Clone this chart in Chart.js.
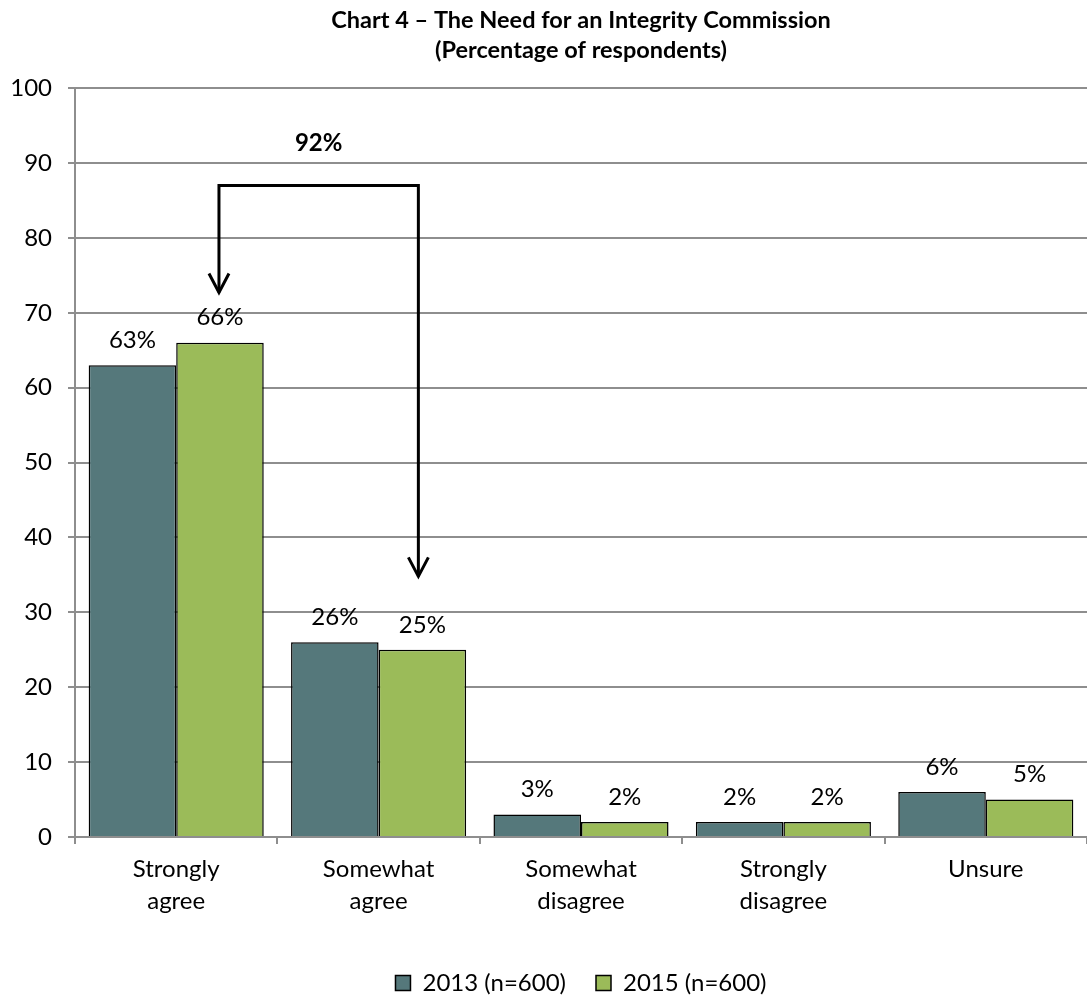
<!DOCTYPE html>
<html>
<head>
<meta charset="utf-8">
<script src="https://cdn.jsdelivr.net/npm/chart.js@4/dist/chart.umd.min.js"></script>
<style>
  html, body { margin: 0; padding: 0; background: #fff; }
  #wrap { width: 1087px; height: 995px; }
</style>
</head>
<body>
<div id="wrap"><canvas id="needChart"></canvas></div>
<script>
// chart data
const categories = [['Strongly', 'agree'], ['Somewhat', 'agree'], ['Somewhat', 'disagree'], ['Strongly', 'disagree'], ['Unsure']];
const seriesNames = ['2013 (n=600)', '2015 (n=600)'];
const values2013 = [63, 26, 3, 2, 6];
const values2015 = [66, 25, 2, 2, 5];
const titleLines = ['Chart 4 \u2013 The Need for an Integrity Commission', '(Percentage of respondents)'];

// bracket annotation (y values on the percentage scale)
const bracketLabel = '92%';
const bracketLabelValue = 92.7;
const bracketTopValue = 87;
const leftArrowTipValue = 72.7;
const rightArrowTipValue = 34.8;

const FONT = 'Lato, "Open Sans", sans-serif';
const gridColor = '#8e8e8e';

// percent labels above every bar
const barLabels = {
  id: 'barLabels',
  afterDatasetsDraw(chart) {
    const ctx = chart.ctx;
    ctx.save();
    ctx.font = '24px ' + FONT;
    ctx.fillStyle = '#000';
    ctx.textAlign = 'center';
    ctx.textBaseline = 'middle';
    chart.data.datasets.forEach((ds, i) => {
      chart.getDatasetMeta(i).data.forEach((bar, j) => {
        ctx.fillText(ds.data[j] + '%', bar.x, bar.y - 25);
      });
    });
    ctx.restore();
  }
};

// the "92%" bracket joining strongly + somewhat agree (2015)
const bracket = {
  id: 'bracket',
  afterDatasetsDraw(chart) {
    const ctx = chart.ctx;
    const y = chart.scales.y;
    const meta = chart.getDatasetMeta(1);
    const xl = meta.data[0].x - 1;
    const xr = meta.data[1].x - 4;
    const yTop = y.getPixelForValue(bracketTopValue);
    const yl = y.getPixelForValue(leftArrowTipValue);
    const yr = y.getPixelForValue(rightArrowTipValue);

    ctx.save();
    ctx.strokeStyle = '#000';
    ctx.lineWidth = 3;
    ctx.beginPath();
    ctx.moveTo(xl, yl);
    ctx.lineTo(xl, yTop);
    ctx.lineTo(xr, yTop);
    ctx.lineTo(xr, yr);
    ctx.stroke();

    // open arrow heads
    [[xl, yl], [xr, yr]].forEach(([x, tip]) => {
      ctx.beginPath();
      ctx.moveTo(x - 10, tip - 19);
      ctx.lineTo(x, tip);
      ctx.lineTo(x + 10, tip - 19);
      ctx.stroke();
    });

    ctx.font = 'bold 24px ' + FONT;
    ctx.fillStyle = '#000';
    ctx.textAlign = 'center';
    ctx.textBaseline = 'middle';
    ctx.fillText(bracketLabel, (xl + xr) / 2, y.getPixelForValue(bracketLabelValue));
    ctx.restore();
  }
};

new Chart(document.getElementById('needChart'), {
  type: 'bar',
  data: {
    labels: categories,
    datasets: [{
      label: seriesNames[0],
      data: values2013,
      backgroundColor: '#55787b',
      borderColor: '#000',
      borderWidth: 1.5
    }, {
      label: seriesNames[1],
      data: values2015,
      backgroundColor: '#9bbb59',
      borderColor: '#000',
      borderWidth: 1.5
    }]
  },
  options: {
    responsive: true,
    maintainAspectRatio: false,
    animation: false,
    categoryPercentage: 0.865,
    barPercentage: 1,
    layout: { padding: { bottom: -10 } },
    plugins: {
      title: {
        display: true,
        fullSize: false,
        text: titleLines,
        color: '#000',
        font: { family: FONT, size: 23.5, weight: 'bold', lineHeight: 1.3 },
        padding: { top: 5, bottom: 22 }
      },
      legend: {
        position: 'bottom',
        fullSize: false,
        labels: {
          color: '#000',
          font: { family: FONT, size: 24 },
          boxWidth: 15,
          boxHeight: 15,
          padding: 30
        }
      },
      tooltip: { enabled: false }
    },
    scales: {
      x: {
        grid: {
          display: true,
          drawOnChartArea: false,
          drawTicks: true,
          tickLength: 7,
          color: gridColor,
          lineWidth: 2
        },
        border: { color: gridColor, width: 2 },
        ticks: {
          color: '#000',
          font: { family: FONT, size: 24, lineHeight: 1.35 },
          padding: 9,
          maxRotation: 0,
          autoSkip: false
        },
        afterFit(scale) { scale.height = 104; }
      },
      y: {
        min: 0,
        max: 100,
        grid: { color: gridColor, lineWidth: 2, tickLength: 7 },
        border: { color: gridColor, width: 2 },
        ticks: {
          stepSize: 10,
          color: '#000',
          font: { family: FONT, size: 24 },
          padding: 16
        },
        afterFit(scale) { scale.width = 75; }
      }
    }
  },
  plugins: [barLabels, bracket]
});
</script>
</body>
</html>
